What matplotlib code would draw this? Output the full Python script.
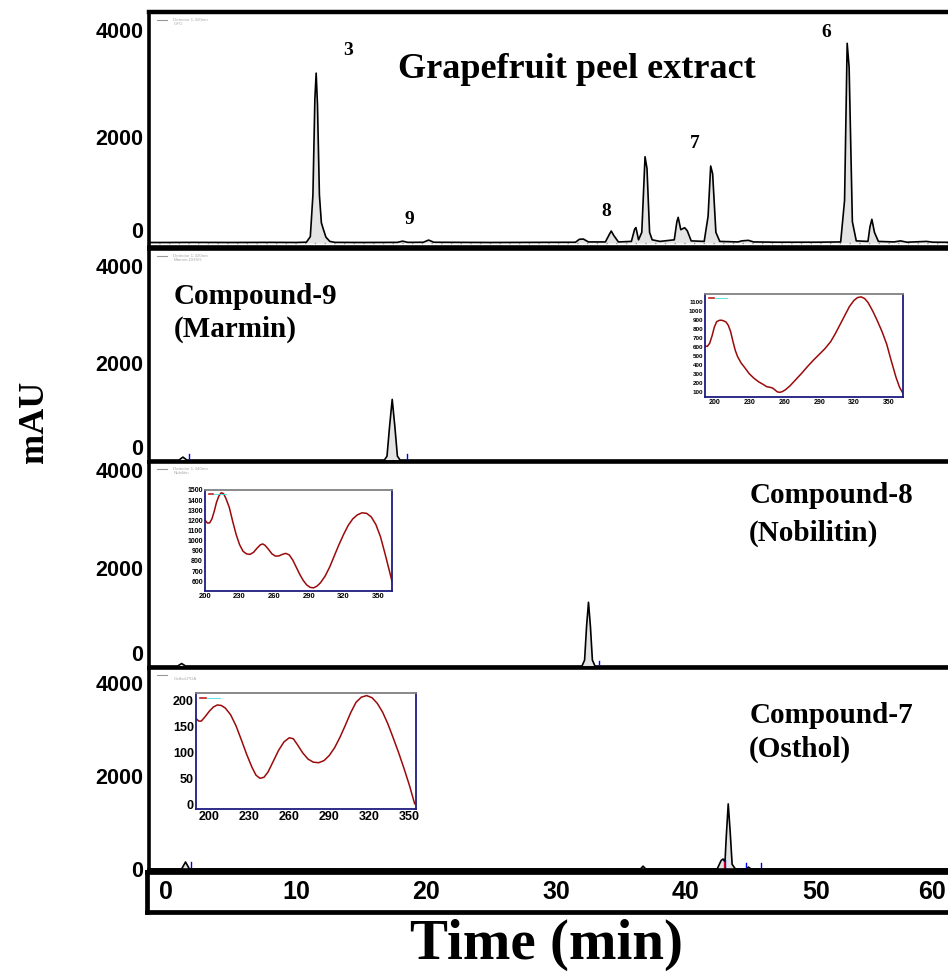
import matplotlib
matplotlib.use('Agg')
import matplotlib.pyplot as plt

plt.rcParams['font.family'] = ['Liberation Sans', 'DejaVu Sans']
SERIF = ['Liberation Serif', 'DejaVu Serif']

# HPLC traces: retention time (min) vs absorbance (mAU)
extract_t = [-1.4, 0, 2, 5, 8, 10, 10.8, 11.1, 11.3, 11.45, 11.55, 11.65, 11.8, 11.95,
             12.1, 12.3, 12.6, 13, 15, 17.8, 18.2, 18.6, 19.8, 20.2, 20.6, 25, 28,
             31.5, 31.8, 32.1, 32.5, 33.8, 34.1, 34.25, 34.45, 34.8, 35.8, 36.05, 36.15,
             36.35, 36.6, 36.85, 37.0, 37.2, 37.4, 38, 39.1, 39.3, 39.4, 39.6, 39.9,
             40.1, 40.4, 41.4, 41.7, 41.9, 42.05, 42.3, 42.6, 44, 44.3, 44.8, 45.2, 47,
             50, 51.9, 52.2, 52.4, 52.55, 52.8, 53.1, 54, 54.15, 54.3, 54.5, 54.8, 56,
             56.5, 57, 58.5, 59, 61.1]
extract_mau = [10, 10, 12, 10, 12, 10, 15, 120, 900, 2700, 3190, 2600, 900, 380,
               260, 110, 30, 12, 10, 12, 35, 12, 14, 55, 14, 10, 12,
               14, 70, 75, 20, 20, 160, 225, 140, 20, 30, 260, 290,
               60, 200, 1620, 1400, 200, 60, 30, 60, 400, 482, 250, 287,
               230, 40, 30, 500, 1446, 1300, 200, 30, 20, 40, 50, 20, 15,
               15, 20, 800, 3750, 3300, 400, 40, 30, 300, 445, 200, 30, 20,
               40, 15, 30, 15, 12]

marmin_t = [-1.4, 1.0, 1.3, 1.6, 10, 16.8, 17.0, 17.2, 17.4, 17.6, 17.8, 18.0, 30, 61.1]
marmin_mau = [0, 0, 60, 0, 0, 0, 80, 700, 1250, 700, 80, 0, 0, 0]

nobiletin_t = [-1.4, 0.9, 1.2, 1.5, 10, 32.0, 32.2, 32.35, 32.5, 32.65, 32.8, 33.0, 61.1]
nobiletin_mau = [0, 0, 50, 0, 0, 0, 120, 800, 1300, 800, 120, 0, 0]

osthol_t = [-1.4, 1.2, 1.5, 1.8, 10, 36.5, 36.7, 36.9, 42.4, 42.7, 42.85, 43.0, 43.1,
            43.25, 43.4, 43.55, 43.8, 44.6, 44.8, 45.0, 61.1]
osthol_mau = [0, 0, 150, 0, 0, 0, 60, 0, 0, 180, 215, 150, 700,
              1400, 800, 100, 0, 0, 40, 0, 0]

# UV spectra of the standards: wavelength (nm) vs absorbance
marmin_wl = [192, 194, 196, 198, 200, 202, 204, 206, 208, 210, 212, 214, 216, 218, 220,
             223, 226, 230, 234, 238, 242, 245, 248, 250, 252, 254, 256, 258, 261, 265,
             270, 275, 280, 285, 290, 295, 300, 304, 308, 312, 316, 320, 323, 326, 329,
             332, 336, 340, 344, 348, 352, 356, 359, 362]
marmin_abs = [610, 605, 640, 720, 820, 880, 895, 898, 890, 878, 840, 770, 660, 560, 490,
              420, 370, 300, 250, 210, 180, 155, 148, 140, 120, 98, 92, 98, 120, 165,
              235, 305, 380, 450, 515, 580, 660, 750, 850, 950, 1050, 1120, 1150, 1158, 1140,
              1095, 1000, 890, 770, 630, 440, 260, 150, 80]

nobiletin_wl = [200, 202, 204, 206, 208, 210, 212, 214, 216, 218, 221, 224, 227, 230, 233,
                236, 239, 242, 245, 248, 250, 252, 255, 258, 261, 264, 267, 270, 273, 276,
                279, 282, 285, 288, 291, 294, 297, 300, 304, 308, 312, 316, 320, 324, 328,
                332, 336, 340, 344, 348, 352, 356, 360, 362]
nobiletin_abs = [1203, 1175, 1175, 1215, 1290, 1380, 1440, 1472, 1465, 1420, 1330, 1190, 1060,
                 960, 895, 870, 865, 885, 925, 960, 968, 955, 915, 870, 848, 850, 865, 875,
                 860, 810, 740, 670, 610, 565, 540, 535, 552, 585, 650, 740, 850, 960, 1060,
                 1150, 1215, 1255, 1275, 1270, 1235, 1160, 1040, 870, 690, 600]

osthol_wl = [190, 192, 194, 197, 200, 203, 206, 209, 212, 216, 220, 224, 228, 232, 235, 238,
             241, 244, 248, 252, 256, 260, 263, 266, 270, 274, 278, 282, 286, 290, 294, 298,
             302, 306, 310, 314, 318, 322, 326, 330, 334, 338, 342, 346, 350, 354]
osthol_abs = [166, 161, 161, 170, 180, 188, 192, 191, 186, 173, 152, 125, 97, 72, 57, 51,
              53, 63, 84, 105, 121, 129, 127, 116, 100, 88, 82, 81, 85, 95, 110, 130,
              153, 177, 197, 207, 210, 206, 195, 178, 155, 128, 100, 70, 38, 2]

y_ticks = [0, 2000, 4000]
x_ticks = [0, 10, 20, 30, 40, 50, 60]
uv_ticks = [200, 230, 260, 290, 320, 350]

peak_labels = ['3', '9', '8', '7', '6']
peak_label_t = [14.0, 18.7, 33.9, 40.7, 50.8]
peak_label_y = [3620, 450, 600, 1860, 3950]

W, H = 948, 974
fig = plt.figure(figsize=(W / 100, H / 100), dpi=100)

def px_rect(left, top, right, bottom):
    return [left / W, 1 - bottom / H, (right - left) / W, (bottom - top) / H]

xlim = (-1.31, 61.08)

panels = [
    dict(rect=px_rect(149, 12, 960, 247), ylim=(-75, 4338), t=extract_t, v=extract_mau,
         legend=('Detector 1-320nm', 'GFO'), zero_up=True),
    dict(rect=px_rect(149, 249, 960, 462), ylim=(-41, 4352), t=marmin_t, v=marmin_mau,
         legend=('Detector 1-320nm', 'Marmin-DHSG'), zero_up=True),
    dict(rect=px_rect(149, 462, 960, 668), ylim=(-41, 4163), t=nobiletin_t, v=nobiletin_mau,
         legend=('Detector 1-340nm', 'Nobilitin'), zero_up=True),
    dict(rect=px_rect(149, 668, 960, 870), ylim=(-22, 4323), t=osthol_t, v=osthol_mau,
         legend=('', 'Osthol-PDA'), zero_up=False),
]

axes = []
for p in panels:
    ax = fig.add_axes(p['rect'])
    ax.fill_between(p['t'], 0, p['v'], color='#e4e4e4', lw=0)
    ax.axhline(0, color='#9a9a9a', lw=1, ls=(0, (1, 6)))
    ax.plot(p['t'], p['v'], color='black', lw=1.2)
    ax.set_xlim(*xlim)
    ax.set_ylim(*p['ylim'])
    ax.set_xticks([])
    ax.set_yticks(y_ticks)
    labs = ax.set_yticklabels([str(v) for v in y_ticks], fontsize=15.5, fontweight='bold')
    if p['zero_up']:
        labs[0].set_va('bottom')
    ax.tick_params(axis='y', length=0, pad=4)
    for s in ax.spines.values():
        s.set_linewidth(2.6)
    ax.spines['right'].set_visible(False)
    # faint software legend in the top-left corner
    ax.plot([0.01, 0.022], [0.965, 0.965], transform=ax.transAxes, color='#999999', lw=0.8)
    ax.text(0.03, 0.975, p['legend'][0] + '\n' + p['legend'][1], transform=ax.transAxes,
            fontsize=3.2, color='#aaaaaa', va='top', ha='left', linespacing=1.0)
    axes.append(ax)

ax1, ax2, ax3, ax4 = axes
ax1.spines['top'].set_linewidth(3.2)

ax1.text(0.527, 0.755, 'Grapefruit peel extract', transform=ax1.transAxes, family=SERIF,
         fontsize=26, fontweight='bold', ha='center', va='center')
for lab, tx, ty in zip(peak_labels, peak_label_t, peak_label_y):
    ax1.text(tx, ty, lab, family=SERIF, fontsize=14, fontweight='bold', ha='center', va='center')

ax2.text(0.03, 0.70, 'Compound-9\n(Marmin)', transform=ax2.transAxes, family=SERIF,
         fontsize=21, fontweight='bold', ha='left', va='center', linespacing=1.3)
ax3.text(0.74, 0.745, 'Compound-8\n(Nobilitin)', transform=ax3.transAxes, family=SERIF,
         fontsize=21, fontweight='bold', ha='left', va='center', linespacing=1.5)
ax4.text(0.74, 0.68, 'Compound-7\n(Osthol)', transform=ax4.transAxes, family=SERIF,
         fontsize=21, fontweight='bold', ha='left', va='center', linespacing=1.3)

# integration markers
ax2.plot([1.8, 1.8], [0, 120], color='blue', lw=1)
ax2.plot([18.5, 18.5], [0, 120], color='blue', lw=1)
ax3.plot([33.3, 33.3], [0, 100], color='blue', lw=1)
ax4.plot([1.9, 1.9], [0, 150], color='blue', lw=1)
ax4.plot([42.9, 42.9], [0, 150], color='red', lw=1)
ax4.plot([43.0, 43.0], [0, 200], color='blue', lw=1)
ax4.plot([44.6, 44.6], [0, 130], color='blue', lw=1)
ax4.plot([45.8, 45.8], [0, 130], color='blue', lw=1)

# time axis strip
axb = fig.add_axes(px_rect(147, 872, 960, 912))
axb.set_xlim(-1.46, 61.08)
axb.set_ylim(0, 1)
axb.set_xticks([])
axb.set_yticks([])
for s in axb.spines.values():
    s.set_linewidth(3.4)
axb.spines['right'].set_visible(False)
for v in x_ticks:
    axb.text(v, 0.5, str(v), transform=axb.get_xaxis_transform(), fontsize=18,
             fontweight='bold', ha='right' if v == x_ticks[-1] else 'center', va='center')

fig.text(546 / W, 1 - 945 / H, 'Time (min)', family=SERIF, fontsize=41, fontweight='bold',
         ha='center', va='center')
fig.text(35 / W, 1 - 422 / H, 'mAU', family=SERIF, fontsize=26, fontweight='bold',
         ha='center', va='center', rotation=90)

# UV spectrum insets
NAVY = '#1c1c80'
def inset(rect, wl, ab, xlim_, ylim_, yticks, fs_y, fs_x):
    ax = fig.add_axes(rect)
    ax.plot(wl, ab, color='#9b0a0a', lw=1.1)
    ax.set_xlim(*xlim_)
    ax.set_ylim(*ylim_)
    ax.set_xticks(uv_ticks)
    ax.set_xticklabels([str(v) for v in uv_ticks], fontsize=fs_x, fontweight='bold')
    ax.set_yticks(yticks)
    ax.set_yticklabels([str(v) for v in yticks], fontsize=fs_y, fontweight='bold')
    ax.tick_params(length=0, pad=1.5)
    for k in ('left', 'right', 'bottom'):
        ax.spines[k].set_color(NAVY)
        ax.spines[k].set_linewidth(1.3)
    ax.spines['top'].set_color('#808080')
    ax.spines['top'].set_linewidth(1.3)
    ax.plot([0.02, 0.045], [0.96, 0.96], transform=ax.transAxes, color='#c02020', lw=1.2)
    ax.plot([0.05, 0.11], [0.96, 0.96], transform=ax.transAxes, color='#40e0e0', lw=0.6)
    return ax

inset(px_rect(705, 294, 903, 397), marmin_wl, marmin_abs, (192, 362), (40, 1190),
      list(range(100, 1200, 100)), 4.5, 5)
inset(px_rect(205, 490, 392, 591), nobiletin_wl, nobiletin_abs, (200, 362), (504, 1500),
      list(range(600, 1600, 100)), 5, 5.5)
inset(px_rect(196, 693, 416, 809), osthol_wl, osthol_abs, (190, 355), (-8, 215),
      [0, 50, 100, 150, 200], 9, 9)

fig.savefig('out.png', dpi=100)
